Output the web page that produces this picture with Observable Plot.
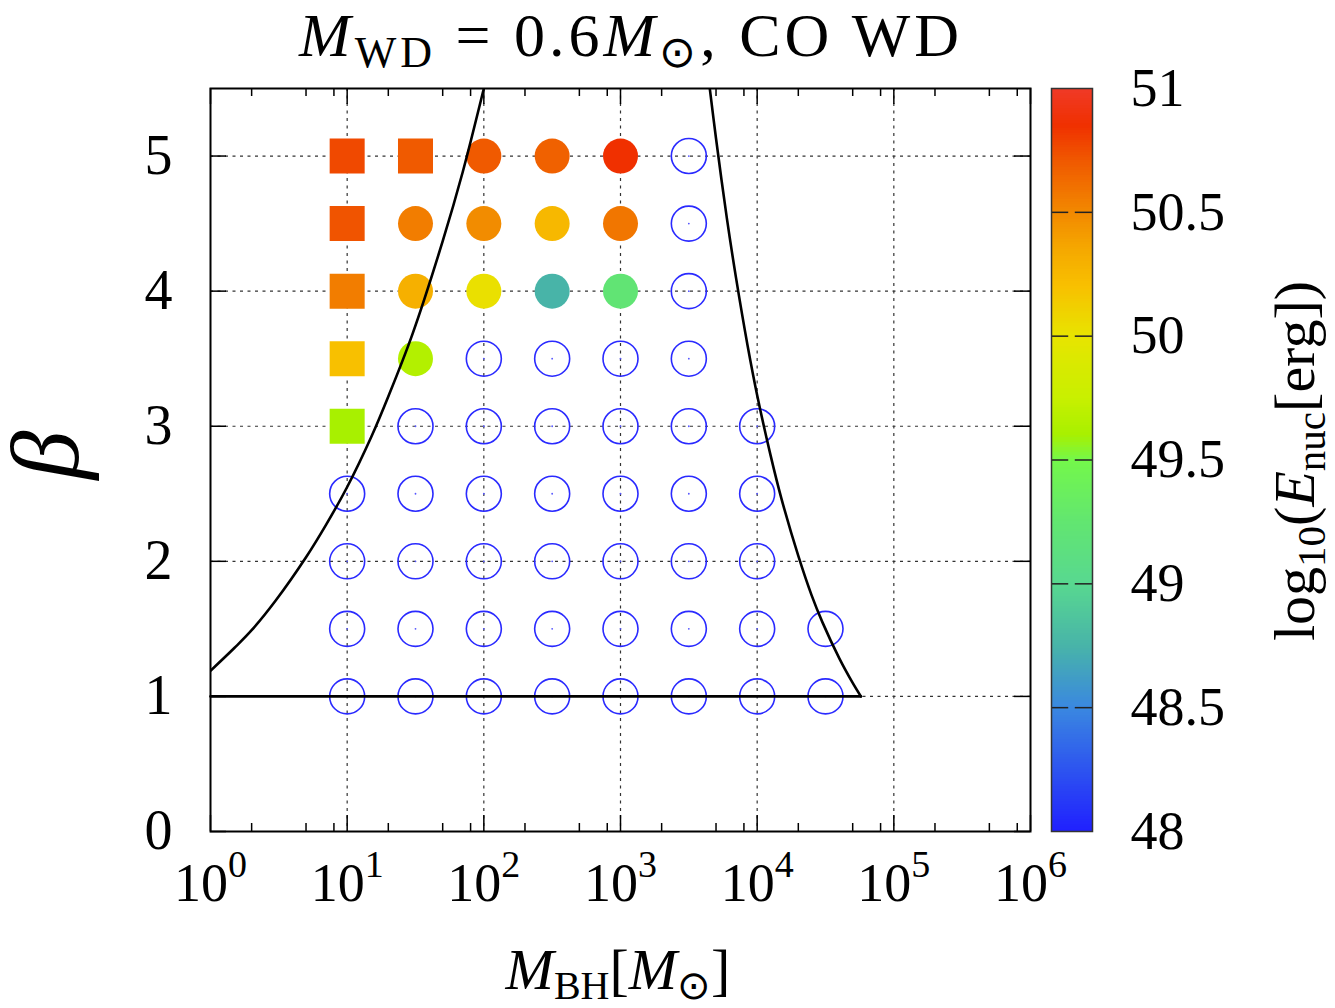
<!DOCTYPE html>
<html><head><meta charset="utf-8">
<script src="https://cdn.jsdelivr.net/npm/d3@7"></script>
<script src="https://cdn.jsdelivr.net/npm/@observablehq/plot@0.6"></script>
<style>
body{margin:0;background:#fff}
#wrap{position:relative;width:1335px;height:1008px;overflow:hidden;background:#fff}
#wrap svg{position:absolute;top:0;overflow:visible}
</style>
</head><body><div id="wrap"></div>
<script>
// ---------- data ----------
const xTickExp = [0, 1, 2, 3, 4, 5, 6];
const xMinorMantissa = [2, 5, 8];
const yTicks = [0, 1, 2, 3, 4, 5];
const gridXExp = [1, 2, 3, 4, 5];
const gridYVals = [1, 2, 3, 4, 5];
const cbTickLabels = [48, 48.5, 49, 49.5, 50, 50.5, 51];
const cbInnerTicks = [48.5, 49, 49.5, 50, 50.5];

// simulated (filled) points
const filledM     = [10, 31.62, 100, 316.2, 1000, 10, 31.62, 100, 316.2, 1000, 10, 31.62, 100, 316.2, 1000, 10, 31.62, 10];
const filledBeta  = [5, 5, 5, 5, 5, 4.5, 4.5, 4.5, 4.5, 4.5, 4, 4, 4, 4, 4, 3.5, 3.5, 3];
const filledLogE  = [50.76, 50.7, 50.7, 50.67, 50.85, 50.72, 50.55, 50.48, 50.25, 50.58, 50.55, 50.3, 50.02, 48.75, 49.22, 50.2, 49.65, 49.6];
const filledShape = ["square", "square", "circle", "circle", "circle", "square", "circle", "circle", "circle", "circle", "square", "circle", "circle", "circle", "circle", "square", "circle", "square"];

// open (no ignition) points
const openM = [3162, 3162, 3162,
  100, 316.2, 1000, 3162,
  31.62, 100, 316.2, 1000, 3162, 10000,
  10, 31.62, 100, 316.2, 1000, 3162, 10000,
  10, 31.62, 100, 316.2, 1000, 3162, 10000,
  10, 31.62, 100, 316.2, 1000, 3162, 10000, 31623,
  10, 31.62, 100, 316.2, 1000, 3162, 10000, 31623];
const openBeta = [5, 4.5, 4,
  3.5, 3.5, 3.5, 3.5,
  3, 3, 3, 3, 3, 3,
  2.5, 2.5, 2.5, 2.5, 2.5, 2.5, 2.5,
  2, 2, 2, 2, 2, 2, 2,
  1.5, 1.5, 1.5, 1.5, 1.5, 1.5, 1.5, 1.5,
  1, 1, 1, 1, 1, 1, 1, 1];

// boundary curves
const leftCurveM    = [1, 1.5, 2, 3, 5, 7, 10, 15, 20, 30, 50, 70, 100, 105];
const leftCurveBeta = [1.19, 1.36, 1.49, 1.71, 2.03, 2.27, 2.55, 2.92, 3.22, 3.68, 4.37, 4.88, 5.50, 5.59];
const rightCurveM    = [4450, 5000, 6000, 7000, 8500, 10000, 12500, 15000, 20000, 25000, 30000, 40000, 50000, 57400];
const rightCurveBeta = [5.54, 5.13, 4.54, 4.10, 3.60, 3.23, 2.79, 2.47, 2.04, 1.75, 1.55, 1.28, 1.10, 1.0];
const baseLineM    = [1, 57400];
const baseLineBeta = [1, 1];

// palette (colour bar)
const palDomain = [48, 48.5, 48.75, 49, 49.25, 49.5, 49.6, 49.75, 50, 50.2, 50.35, 50.5, 50.7, 50.85, 51];
const palRange  = ["#2020ff", "#3a88e0", "#48b4a8", "#58d890", "#62e670", "#74f84a", "#a8f000", "#c8f000", "#e8e400", "#f8c000", "#f5a800", "#f28800", "#f05a00", "#f03000", "#f03a28"];

// ---------- build tables ----------
const filled = filledM.map((m, i) => ({m, b: filledBeta[i], e: filledLogE[i], s: filledShape[i]}));
const squares = filled.filter(d => d.s === "square");
const circles = filled.filter(d => d.s === "circle");
const open = openM.map((m, i) => ({m, b: openBeta[i]}));
const leftCurve = leftCurveM.map((m, i) => ({m, b: leftCurveBeta[i]}));
const rightCurve = rightCurveM.map((m, i) => ({m, b: rightCurveBeta[i]}));
const baseLine = baseLineM.map((m, i) => ({m, b: baseLineBeta[i]}));
const majorX = xTickExp.map(e => Math.pow(10, e));
const minorX = xTickExp.slice(0, -1).flatMap(e => xMinorMantissa.map(k => k * Math.pow(10, e)));
const gridX = gridXExp.map(e => Math.pow(10, e));

const colorSpec = {type: "linear", domain: palDomain, range: palRange, interpolate: "rgb"};
const FONT = "'Liberation Serif', 'Times New Roman', serif";
const PH = 743, PW = 820; // plot frame size
const TK = 16, TKm = 8;

const main = Plot.plot({
  width: 1040, height: 1008,
  marginLeft: 210, marginRight: 10, marginTop: 88, marginBottom: 177,
  style: {fontFamily: FONT, fontSize: "54px", color: "black", background: "transparent", overflow: "visible"},
  x: {type: "log", domain: [1, 1e6]},
  y: {domain: [0, 5.5]},
  color: colorSpec,
  marks: [
    Plot.ruleX(gridX, {x: d => d, stroke: "#333", strokeWidth: 1.2, strokeDasharray: "3,4.5"}),
    Plot.ruleY(gridYVals, {y: d => d, stroke: "#333", strokeWidth: 1.2, strokeDasharray: "3,4.5"}),
    Plot.dot(open, {x: "m", y: "b", r: 17.5, stroke: "#2a2aff", strokeWidth: 1.6, fill: "none"}),
    Plot.dot(open, {x: "m", y: "b", r: 0.9, fill: "#5555ff", stroke: "none"}),
    Plot.dot(circles, {x: "m", y: "b", r: 17.5, fill: "e", symbol: "circle", stroke: "none"}),
    Plot.dot(squares, {x: "m", y: "b", r: 19.75, fill: "e", symbol: "square", stroke: "none"}),
    Plot.line(leftCurve, {x: "m", y: "b", stroke: "black", strokeWidth: 2.6, curve: "catmull-rom", clip: true}),
    Plot.line(rightCurve, {x: "m", y: "b", stroke: "black", strokeWidth: 2.6, curve: "catmull-rom", clip: true}),
    Plot.line(baseLine, {x: "m", y: "b", stroke: "black", strokeWidth: 2.6}),
    // ticks on all sides (pointing inward)
    Plot.tickX(majorX, {x: d => d, insetTop: PH - TK, stroke: "black", strokeWidth: 1.5}),
    Plot.tickX(majorX, {x: d => d, insetBottom: PH - TK, stroke: "black", strokeWidth: 1.5}),
    Plot.tickX(minorX, {x: d => d, insetTop: PH - TKm, stroke: "black", strokeWidth: 1.5}),
    Plot.tickX(minorX, {x: d => d, insetBottom: PH - TKm, stroke: "black", strokeWidth: 1.5}),
    Plot.tickY(yTicks, {y: d => d, insetRight: PW - TK, stroke: "black", strokeWidth: 1.5}),
    Plot.tickY(yTicks, {y: d => d, insetLeft: PW - TK, stroke: "black", strokeWidth: 1.5}),
    Plot.axisX(majorX, {tickSize: 0, tickPadding: 31, label: null, fontSize: 54,
      tickFormat: d => "10^" + Math.round(Math.log10(d))}),
    Plot.axisY(yTicks, {tickSize: 0, tickPadding: 38, label: null, fontSize: 56, tickFormat: d => String(d)}),
    Plot.frame({stroke: "black", strokeWidth: 2})
  ]
});

const cbSteps = d3.range(48, 51, 0.01);
const cb = Plot.plot({
  width: 295, height: 1008,
  marginLeft: 11, marginRight: 295 - 52, marginTop: 88, marginBottom: 177,
  style: {fontFamily: FONT, fontSize: "54px", color: "black", background: "transparent"},
  x: {domain: [0, 1], axis: null},
  y: {domain: [48, 51]},
  color: colorSpec,
  marks: [
    Plot.rect(cbSteps, {x1: 0, x2: 1, y1: d => d, y2: d => Math.min(51, d + 0.013), fill: d => d + 0.005, shapeRendering: "crispEdges"}),
    Plot.ruleY(cbInnerTicks, {y: d => d, x1: 0, x2: 0.42, stroke: "#222", strokeWidth: 1.5}),
    Plot.ruleY(cbInnerTicks, {y: d => d, x1: 0.58, x2: 1, stroke: "#222", strokeWidth: 1.5}),
    Plot.axisY(cbTickLabels, {anchor: "right", tickSize: 0, tickPadding: 38, label: null, fontSize: 54, tickFormat: d => String(d)}),
    Plot.frame({stroke: "#333", strokeWidth: 1.5})
  ]
});

// superscript exponents on the x tick labels
const NS = "http://www.w3.org/2000/svg";
main.querySelectorAll('g[aria-label="x-axis tick label"] text').forEach(t => {
  const s = t.textContent;
  if (s.includes("^")) {
    const [b, e] = s.split("^");
    t.textContent = b;
    const ts = document.createElementNS(NS, "tspan");
    ts.setAttribute("dy", "-0.62em");
    ts.setAttribute("font-size", "38");
    ts.textContent = e;
    t.appendChild(ts);
  }
});

const wrap = document.getElementById("wrap");
main.style.left = "0px";
cb.style.left = "1040px";
wrap.appendChild(main);
wrap.appendChild(cb);

// overlay with titles / axis labels
const ov = document.createElementNS(NS, "svg");
ov.setAttribute("width", 1335); ov.setAttribute("height", 1008);
ov.style.left = "0px"; ov.style.pointerEvents = "none";
ov.setAttribute("font-family", "Liberation Serif, Times New Roman, serif");
function addText(parts, attrs) {
  const t = document.createElementNS(NS, "text");
  for (const k in attrs) t.setAttribute(k, attrs[k]);
  for (const p of parts) {
    const ts = document.createElementNS(NS, "tspan");
    ts.textContent = p.t;
    if (p.i) ts.setAttribute("font-style", "italic");
    if (p.fs) ts.setAttribute("font-size", p.fs);
    if (p.dy) ts.setAttribute("dy", p.dy);
    t.appendChild(ts);
  }
  ov.appendChild(t);
  return t;
}
// title
addText([
  {t: "M", i: true}, {t: "WD", fs: 44, dy: 11}, {t: " = 0.6", dy: -11},
  {t: "M", i: true}, {t: "⊙", fs: 44, dy: 11}, {t: ", CO WD", dy: -11}
], {x: 631, y: 56, "text-anchor": "middle", "font-size": 62, "letter-spacing": 4});
// x label
addText([
  {t: "M", i: true}, {t: "BH", fs: 40, dy: 10}, {t: "[", dy: -10},
  {t: "M", i: true}, {t: "⊙", fs: 40, dy: 10}, {t: "]", dy: -10}
], {x: 618, y: 989, "text-anchor": "middle", "font-size": 58});
// y label
addText([{t: "β", i: true}], {x: 0, y: 0, "text-anchor": "middle", "font-size": 98,
  transform: "translate(78,455) rotate(-90)"});
// colour bar label
addText([
  {t: "log"}, {t: "10", fs: 41, dy: 11}, {t: "(", dy: -11}, {t: "E", i: true},
  {t: "nuc", fs: 41, dy: 11}, {t: "[erg])", dy: -11}
], {x: 0, y: 0, "text-anchor": "middle", "font-size": 58, transform: "translate(1314,461) rotate(-90)"});
wrap.appendChild(ov);
</script>
</body></html>
